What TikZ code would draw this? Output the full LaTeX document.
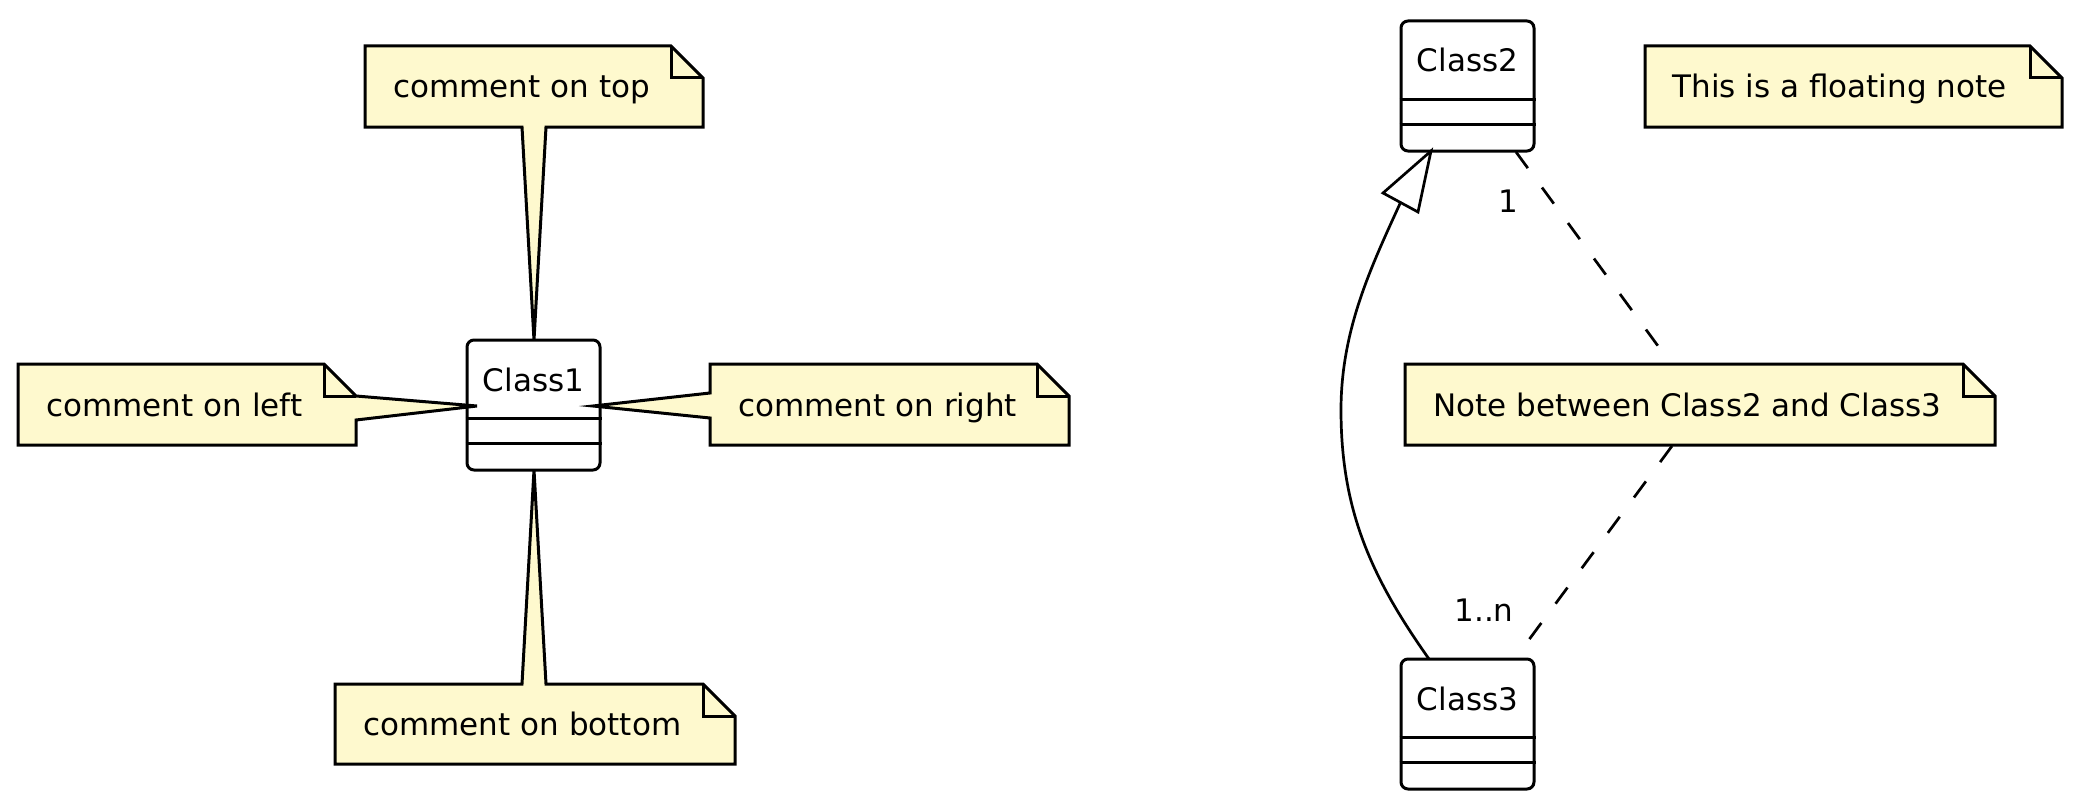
\documentclass[tikz,border=0pt]{standalone}
\usepackage{fontspec}
\setmainfont{DejaVu Sans}
\usetikzlibrary{calc}
\definecolor{notefill}{RGB}{254,249,206}
\begin{document}
\begin{tikzpicture}[x=1pt,y=-1pt,
  line width=3pt,
  notebox/.style={draw=black, fill=notefill, line join=miter},
  foldline/.style={draw=black, line join=miter},
  classbox/.style={draw=black, fill=white, rounded corners=7pt, minimum width=133pt, minimum height=130pt, inner sep=0pt},
  txt/.style={inner sep=0pt, font=\fontsize{31pt}{37pt}\selectfont},
  sepline/.style={draw=black},
  dashedline/.style={dash pattern=on 20pt off 24pt, line width=2.7pt},
  assoc/.style={line width=2.7pt}
]
\path[use as bounding box] (0,0) rectangle (2078,808);

% ---------- Class1 ----------
\node[classbox] (c1) at (533.5,405) {};
\node[txt, anchor=base] (c1t) at (533.5,391) {Class1};
\draw[sepline] ($(c1.north west)+(0,80)$) -- ($(c1.north east)+(0,80)$);
\draw[sepline] ($(c1.north west)+(0,105)$) -- ($(c1.north east)+(0,105)$);

% ---------- Class2 ----------
\node[classbox] (c2) at (1467.5,86) {};
\node[txt, anchor=base] (c2t) at (1467.5,72) {Class2};
\draw[sepline] ($(c2.north west)+(0,80)$) -- ($(c2.north east)+(0,80)$);
\draw[sepline] ($(c2.north west)+(0,105)$) -- ($(c2.north east)+(0,105)$);

% ---------- Class3 ----------
\node[classbox] (c3) at (1467.5,724) {};
\node[txt, anchor=base] (c3t) at (1467.5,710) {Class3};
\draw[sepline] ($(c3.north west)+(0,80)$) -- ($(c3.north east)+(0,80)$);
\draw[sepline] ($(c3.north west)+(0,105)$) -- ($(c3.north east)+(0,105)$);

% ---------- note on top ----------
\draw[notebox] (365,46) -- (671,46) -- (703,78) -- (703,127) -- (546,127) -- (534,340) -- (522,127) -- (365,127) -- cycle;
\draw[foldline] (671,46) -- (671,78) -- (703,78);
\node[txt, anchor=base west] (ntop) at (392,97) {comment on top};

% ---------- note on left ----------
\draw[notebox] (18,364) -- (324,364) -- (356,396) -- (477,406) -- (356,420) -- (356,445) -- (18,445) -- cycle;
\draw[foldline] (324,364) -- (324,396) -- (356,396);
\node[txt, anchor=base west] (nleft) at (45,416) {comment on left};

% ---------- note on right ----------
\draw[notebox] (710,364) -- (1037,364) -- (1069,396) -- (1069,445) -- (710,445) -- (710,418) -- (593,406) -- (710,393) -- cycle;
\draw[foldline] (1037,364) -- (1037,396) -- (1069,396);
\node[txt, anchor=base west] (nright) at (737,416) {comment on right};

% ---------- note on bottom ----------
\draw[notebox] (335,684) -- (522,684) -- (534,470) -- (546,684) -- (703,684) -- (735,716) -- (735,764) -- (335,764) -- cycle;
\draw[foldline] (703,684) -- (703,716) -- (735,716);
\node[txt, anchor=base west] (nbottom) at (362,735) {comment on bottom};

% ---------- floating note ----------
\draw[notebox] (1645,46) -- (2030,46) -- (2062,78) -- (2062,127) -- (1645,127) -- cycle;
\draw[foldline] (2030,46) -- (2030,78) -- (2062,78);
\node[txt, anchor=base west] (nfloat) at (1671,97) {This is a floating note};

% ---------- note between Class2 and Class3 ----------
\draw[notebox] (1405,364) -- (1963,364) -- (1995,396) -- (1995,445) -- (1405,445) -- cycle;
\draw[foldline] (1963,364) -- (1963,396) -- (1995,396);
\node[txt, anchor=base west] (nmid) at (1432,416) {Note between Class2 and Class3};

% ---------- dashed associations through note ----------
\coordinate (d1a) at (1516,152);
\coordinate (d1b) at (1658,346);
\draw[dashedline] (d1a) -- (d1b);
\coordinate (d2a) at (1672,446);
\coordinate (d2b) at (1528,641);
\draw[dashedline] (d2a) -- (d2b);
\node[txt, anchor=base] (l1) at (1508.5,212) {1};
\node[txt, anchor=base] (l1n) at (1484,621) {1..n};

% ---------- inheritance Class3 -> Class2 ----------
\coordinate (ia) at (1429,659);
\coordinate (im) at (1341,410);
\coordinate (ib) at (1400.5,202.5);
\coordinate (itip) at (1431,151);
\coordinate (ic1) at (1383,193);
\coordinate (ic2) at (1418,212);
\draw[assoc] (ia) .. controls (1371,577) and (1341,510) .. (im) .. controls (1341,330) and (1371,267) .. (ib);
\draw[assoc, fill=white, line join=miter] (itip) -- (ic1) -- (ic2) -- cycle;
\end{tikzpicture}
\end{document}
